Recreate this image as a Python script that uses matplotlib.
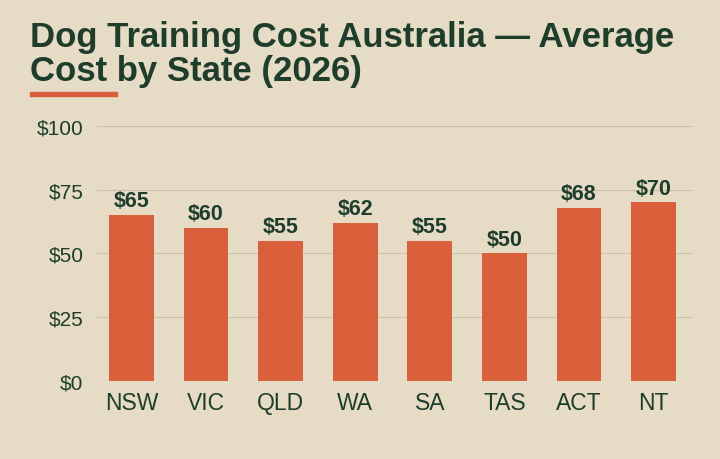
import matplotlib
matplotlib.use("Agg")
import matplotlib.pyplot as plt
from matplotlib.patches import Rectangle

states = ["NSW", "VIC", "QLD", "WA", "SA", "TAS", "ACT", "NT"]
costs = [65, 60, 55, 62, 55, 50, 68, 70]
yticks = [0, 25, 50, 75, 100]

bg = "#e6dcc5"
green = "#1e3d2a"
orange = "#d9603b"
plt.rcParams['font.family'] = ['Liberation Sans', 'DejaVu Sans']

fig = plt.figure(figsize=(7.2, 4.6), dpi=100, facecolor=bg)
ax = fig.add_axes([0.135, 0.1696, 0.8275, 0.5544], facecolor=bg)
x = range(len(states))
ax.bar(x, costs, width=0.6, color=orange, zorder=3)
for i, v in zip(x, costs):
    ax.text(i, v + 1.5, f"${v}", ha="center", va="bottom", fontsize=15.5,
            fontweight="bold", color=green)
ax.set_ylim(0, 100)
ax.set_xlim(-0.46, 7.53)
ax.set_yticks(yticks)
ax.set_yticklabels([f"${t}" for t in yticks])
ax.set_xticks(list(x))
ax.set_xticklabels(states)
ax.tick_params(length=0, colors=green)
ax.tick_params(axis="y", pad=10, labelsize=15)
ax.tick_params(axis="x", pad=7, labelsize=16.5)
ax.grid(axis="y", color="#cdc2a8", linewidth=0.8, zorder=0)
for s in ax.spines.values():
    s.set_visible(False)

fig.text(30/720, 1-38/460, "Dog Training Cost Australia — Average",
         fontsize=25, fontweight="bold", color=green, va="center", ha="left")
fig.text(30/720, 1-71/460, "Cost by State (2026)",
         fontsize=25, fontweight="bold", color=green, va="center", ha="left")
fig.add_artist(Rectangle((30/720, 1-97/460), 87/720, 4/460, transform=fig.transFigure,
                         color=orange))
fig.savefig("out.png", facecolor=bg)
